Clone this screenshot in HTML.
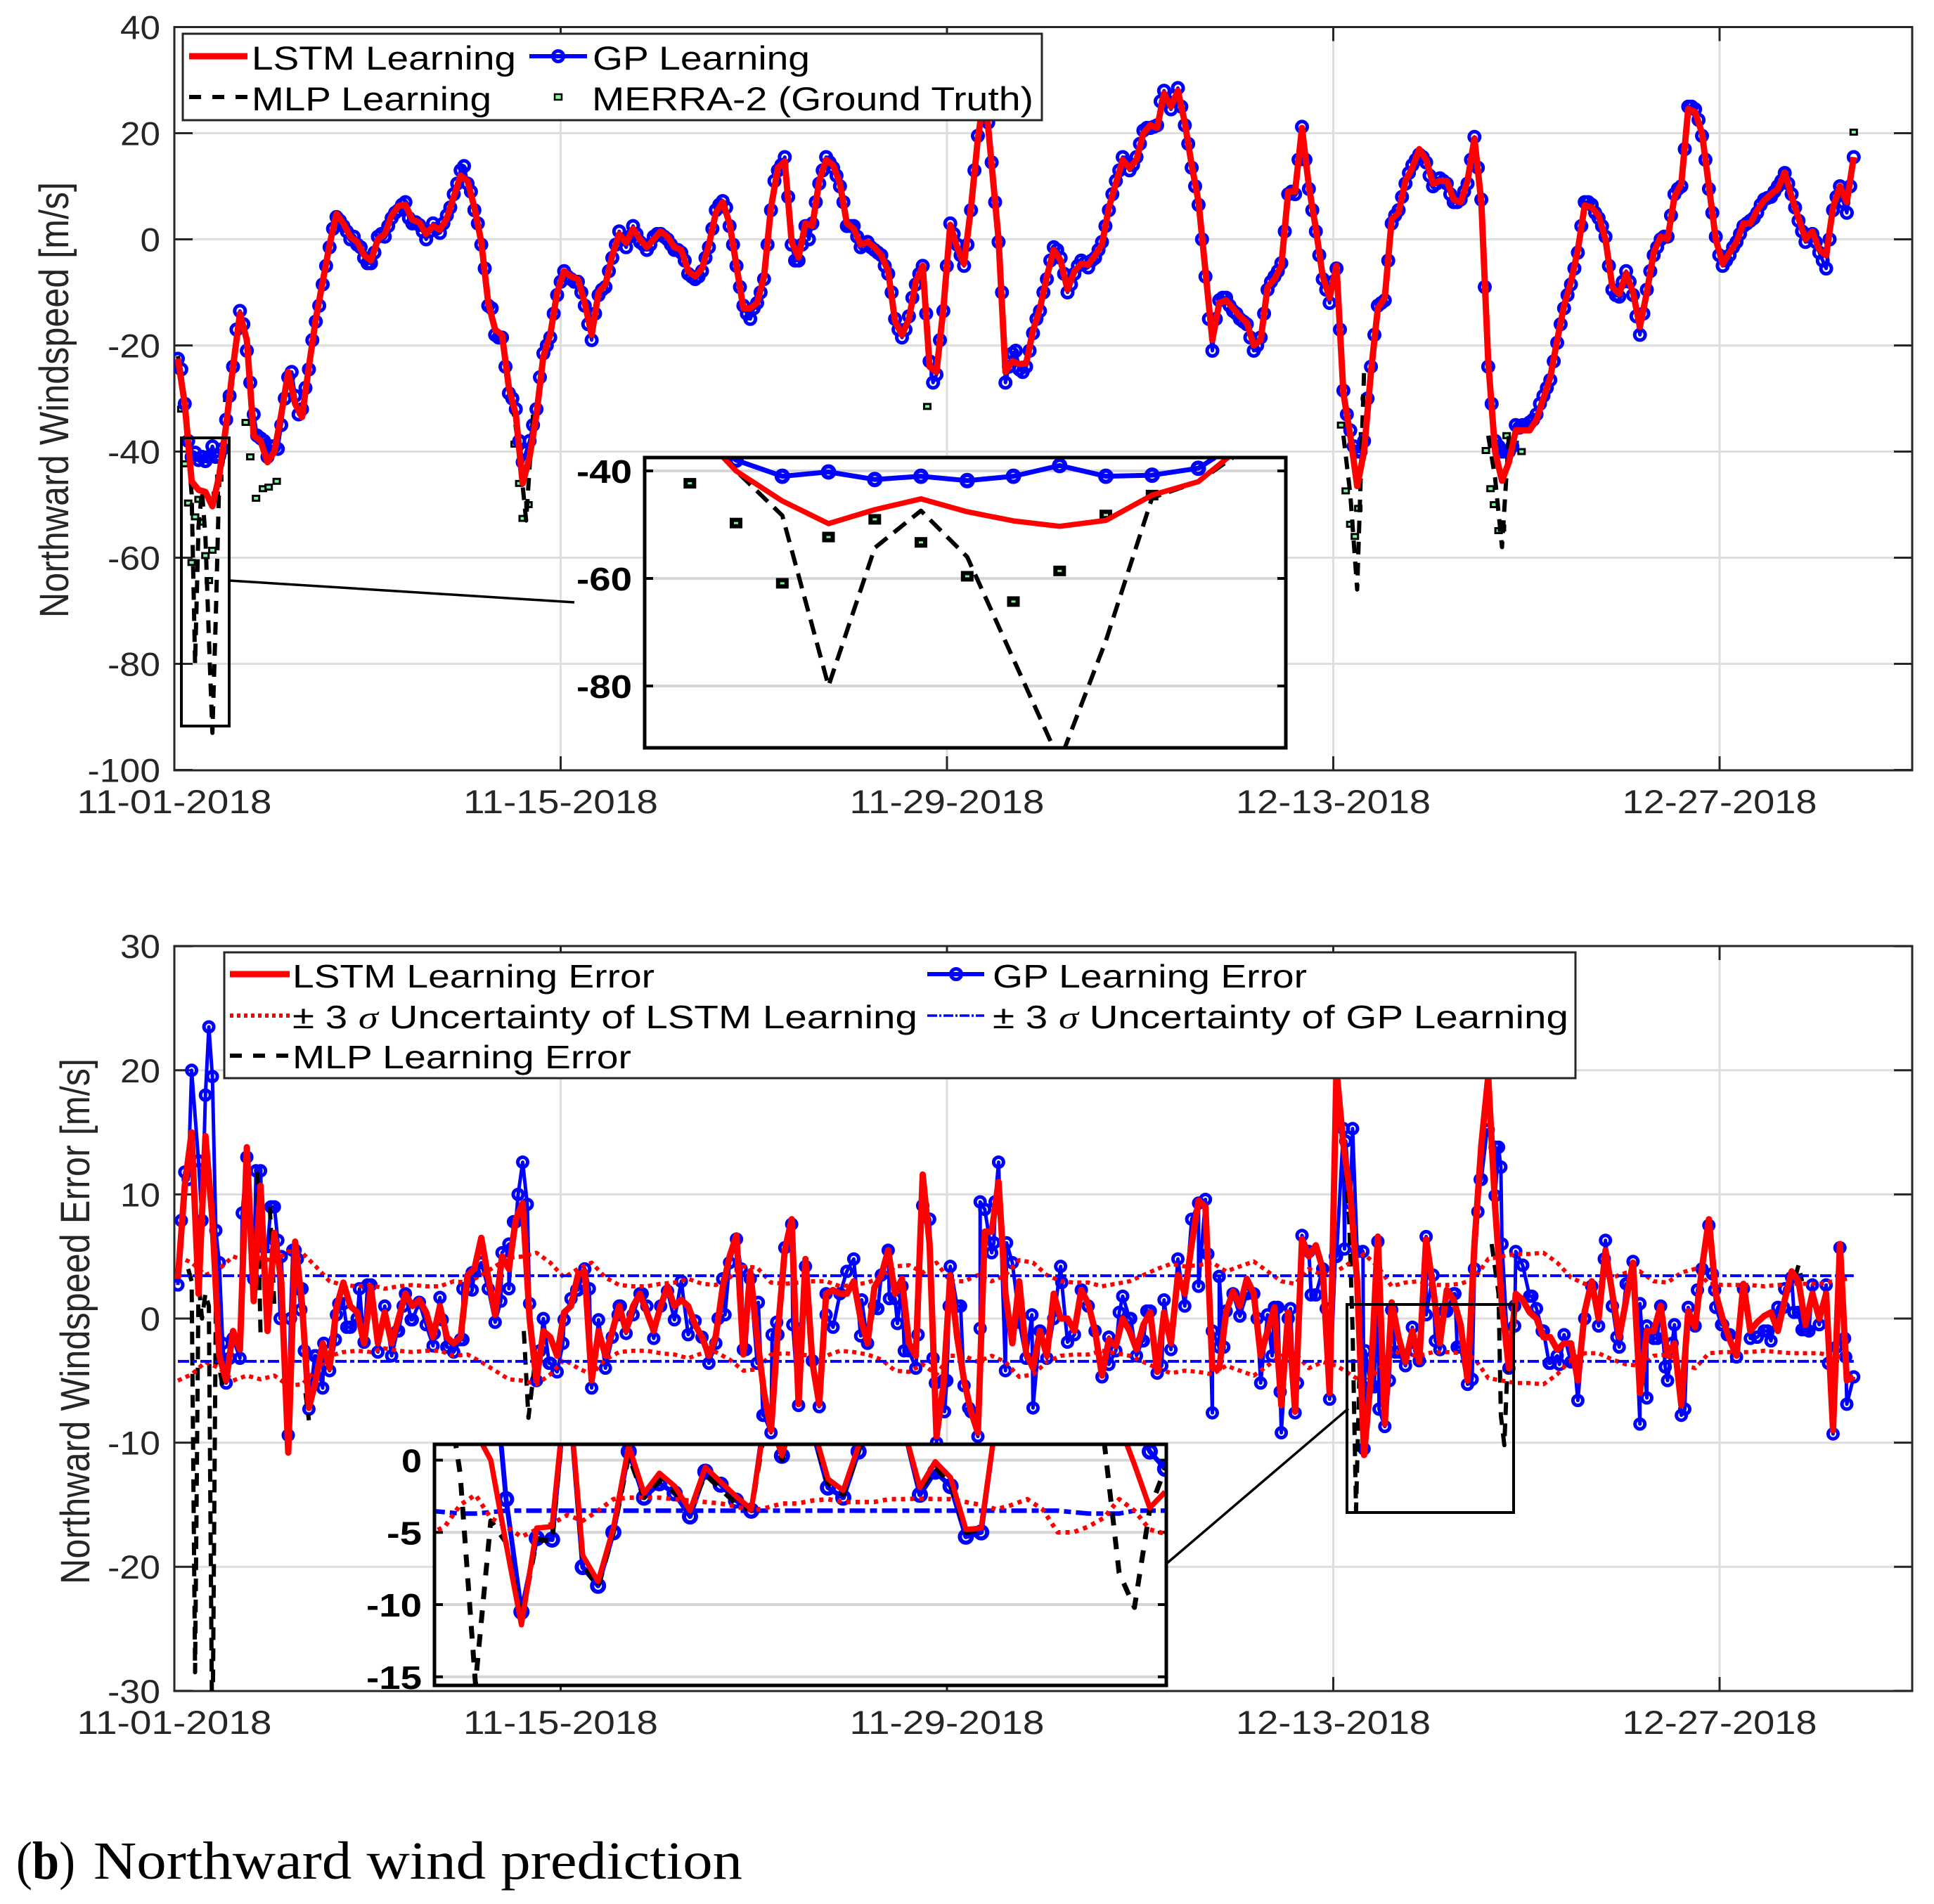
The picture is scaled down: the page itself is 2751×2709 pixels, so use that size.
<!DOCTYPE html>
<html lang="en">
<head>
<meta charset="utf-8">
<title>Northward wind prediction</title>
<style>
html,body{margin:0;padding:0;background:#fff;}
svg{display:block;}
text{font-family:"Liberation Sans",sans-serif;}
</style>
</head>
<body>
<svg id="figure" xmlns="http://www.w3.org/2000/svg" width="2751" height="2709" viewBox="0 0 2751 2709">
<defs>
<clipPath id="clip-top"><rect x="248" y="38" width="2472" height="1058"/></clipPath>
<clipPath id="clip-bottom"><rect x="248" y="1346" width="2472" height="1060"/></clipPath>
<clipPath id="clip-inset-top"><rect x="917" y="651" width="912" height="413"/></clipPath>
<clipPath id="clip-inset-bottom"><rect x="618" y="2055" width="1041" height="343"/></clipPath>
</defs>
<g id="top-plot"></g>
<g id="bottom-plot"></g>
<g id="top-legend">
<rect x="260" y="48" width="1222" height="123" fill="#fff" stroke="#262626" stroke-width="3"/>
<line x1="269" y1="80" x2="352" y2="80" stroke="#f00" stroke-width="9"/>
<text x="358" y="99" font-size="47" textLength="376" lengthAdjust="spacingAndGlyphs">LSTM Learning</text>
<line x1="753" y1="80" x2="835" y2="80" stroke="#00f" stroke-width="6"/>
<circle cx="794" cy="80" r="7.5" fill="none" stroke="#00f" stroke-width="5"/>
<text x="843" y="99" font-size="47" textLength="309" lengthAdjust="spacingAndGlyphs">GP Learning</text>
<line x1="269" y1="138" x2="352" y2="138" stroke="#000" stroke-width="6" stroke-dasharray="17 16"/>
<text x="358" y="157" font-size="47" textLength="341" lengthAdjust="spacingAndGlyphs">MLP Learning</text>
<rect x="789" y="134" width="10" height="8" fill="#7ef5a0" stroke="#000" stroke-width="2.5"/>
<text x="842" y="157" font-size="47" textLength="628" lengthAdjust="spacingAndGlyphs">MERRA-2 (Ground Truth)</text>
</g>
<g id="bottom-legend">
<rect x="319" y="1355" width="1922" height="179" fill="#fff" stroke="#262626" stroke-width="3"/>
<line x1="327" y1="1386" x2="412" y2="1386" stroke="#f00" stroke-width="9"/>
<text x="416" y="1405" font-size="46" textLength="515" lengthAdjust="spacingAndGlyphs">LSTM Learning Error</text>
<line x1="1319" y1="1386" x2="1400" y2="1386" stroke="#00f" stroke-width="6"/>
<circle cx="1360" cy="1386" r="7.5" fill="none" stroke="#00f" stroke-width="5"/>
<text x="1412" y="1405" font-size="46" textLength="447" lengthAdjust="spacingAndGlyphs">GP Learning Error</text>
<line x1="327" y1="1445" x2="412" y2="1445" stroke="#f00" stroke-width="6" stroke-dasharray="5 5"/>
<text x="416" y="1463" font-size="46" textLength="889" lengthAdjust="spacingAndGlyphs">± 3 <tspan font-family="Liberation Serif" font-style="italic">σ</tspan> Uncertainty of LSTM Learning</text>
<line x1="1319" y1="1445" x2="1400" y2="1445" stroke="#00f" stroke-width="3.5" stroke-dasharray="14 3 3 3"/>
<text x="1412" y="1463" font-size="46" textLength="819" lengthAdjust="spacingAndGlyphs">± 3 <tspan font-family="Liberation Serif" font-style="italic">σ</tspan> Uncertainty of GP Learning</text>
<line x1="327" y1="1502" x2="412" y2="1502" stroke="#000" stroke-width="6" stroke-dasharray="17 16"/>
<text x="416" y="1520" font-size="46" textLength="482" lengthAdjust="spacingAndGlyphs">MLP Learning Error</text>
</g>
<text transform="translate(97 569) rotate(-90)" text-anchor="middle" font-size="58" fill="#262626" textLength="620" lengthAdjust="spacingAndGlyphs">Northward Windspeed [m/s]</text>
<text transform="translate(127 1880) rotate(-90)" text-anchor="middle" font-size="58" fill="#262626" textLength="748" lengthAdjust="spacingAndGlyphs">Northward Windspeed Error [m/s]</text>
<text x="23" y="2673" font-size="76" textLength="84" lengthAdjust="spacingAndGlyphs" style="font-family:'Liberation Serif',serif">(<tspan font-weight="bold">b</tspan>)</text>
<text x="133" y="2673" font-size="76" textLength="923" lengthAdjust="spacingAndGlyphs" style="font-family:'Liberation Serif',serif">Northward wind prediction</text>
<script>
// ---------- shared axis data ----------
const dateLabels = ['11-01-2018','11-15-2018','11-29-2018','12-13-2018','12-27-2018'];
const dateDays = [0,14,28,42,56];
const topYTicks = [40,20,0,-20,-40,-60,-80,-100];
const bottomYTicks = [30,20,10,0,-10,-20,-30];
const topInsetTicks = [-40,-60,-80];
const bottomInsetTicks = [0,-5,-10,-15];

// ---------- top panel: six-hourly windspeed ----------
const lstmWind = [
-22.5,-31,-45.6,-47.2,-47.6,-50.3,-44.5,-35,-24,-14,
-19,-37,-38,-42,-40,-33,-25,-31,-33.5,-24,
-15,-8,-1,4.8,3,0.5,-0.5,-3,-4,0,
1,4.5,6.3,6.5,3.7,3.2,1,2.5,1.8,4,
8,12,11,6,-0.5,-12,-17,-18,-28,-33,
-46,-41,-33,-22,-18,-10,-6,-7,-7.5,-12,
-18,-10,-8.5,-3,1,-0.7,2,0,-1.5,0,
1.5,0.5,-1.5,-2,-6,-7,-5.5,-1,5,7,
3,-5,-13,-13,-12,-7,6,13.5,14.7,-0.5,
-3.4,3,2.5,11,15,14,10.5,3,2,-1,
-0.5,-1.5,-3,-6,-15.5,-18,-15,-8,-5,-24,
-25,-13,2.7,-1.5,-4.6,6,19,28,14,0,
-25,-23,-23.5,-23.4,-17.2,-13,-7,-2,-4,-9.5,
-6,-4.6,-4.8,-3,-1,6,10.5,15,13.4,15,
20,21.5,21,27.5,25,28,22,14,7,-6,
-19,-12,-11.5,-13,-14.5,-15.7,-20,-19,-9,-7.5,
-5,9,9,21,10,2,-7,-11,-5,-29,
-37,-46.5,-40,-25,-13,-11,3.8,5,11,13.5,
17,15,10.5,11,11,7.5,7,11,19,7,
-23,-40,-45.5,-42,-36,-36,-36,-34,-30,-26,
-19,-12.5,-8,-2,6.4,6,4.5,0,-9,-10.3,
-6.4,-10,-16.5,-10,-2.5,0.5,0,8,10.5,24.6,
24,20,10,0,-4.6,-2.5,-0.5,3,3,5.5,
7.3,8.5,9.5,12.6,8,4,0,1.5,-2,-3,
6,10,7,15.5];
const gpWind = [
-22.5,-31,-41,-41.6,-41.8,-39,-40.8,-34,-24,-13.5,
-21,-33,-37.5,-41,-39,-35,-26,-29.5,-32,-24.5,
-15.5,-8.5,-1.5,4.2,2.5,0,-1,-3.5,-4.5,0.5,
0.5,4,5.5,7,3,2.7,0,3,1.2,4.5,
8.5,13,10.5,5.5,-1,-12.5,-18,-18.5,-29,-32,
-42,-38,-32,-21.5,-18.5,-10.5,-6,-7.5,-8,-12.5,
-19,-10.5,-9,-3.5,1.5,-1.5,2.5,-0.5,-2,0.5,
1,0,-2,-2.5,-6.5,-7.5,-6,-1.5,5.5,7.2,
2.5,-5,-12.5,-15,-12,-7.5,5.5,13,15.5,-1,
-4,2.5,3,10.5,15.5,13.5,10,2.5,2.5,-1.5,
-0.5,-2,-3,-6.5,-15,-18.5,-14.5,-8.5,-5,-23,
-25.5,-13.5,3,-1,-5,5.5,19.5,28,14.5,-0.5,
-27,-21.5,-24.5,-24,-17.7,-13.5,-7.5,-1.5,-3.5,-10,
-6.5,-4,-5.3,-3.5,-0.5,5.5,11,15.5,13,15.5,
20.5,21,21.5,28,24.5,28.5,21.5,13.5,6.5,-7,
-21,-11.5,-11,-13.5,-15,-16,-21,-18.5,-9.5,-7,
-4.5,8.5,8.5,21.2,9.5,1.5,-7.5,-12,-5.5,-28.5,
-36,-40,-38,-24,-12.5,-11.5,3,5.5,10.5,14,
16,14.5,10,11.5,10.5,7,7.5,10.5,19.3,7.5,
-24,-38,-40,-40,-35,-35,-34.5,-33,-29.5,-26.5,
-19.5,-13,-8.5,-2.5,7,6.5,4,0.5,-9.5,-10.8,
-6,-10.5,-18,-9.5,-3,0,0.5,8.5,10,25,
24.5,19.5,9.5,0.5,-5,-3,-0.5,2.5,3.5,5,
7.5,8,10,12.5,8.5,3.5,-0.5,1,-2.5,-5.5,
5.5,10,5,15.5];
// GP rings at the in-between three-hourly samples (hour = 3 + 6*i)
const gpWindMid = [
-24.5,-38,-40.2,-41,-41,-41,-39.5,-29.5,-17,-16,
-27,-37,-38,-39,-39.5,-30,-25,-33,-28,-19,
-12.5,-5,2,3.5,1.5,0.5,-1.5,-4.5,-2.5,1,
2.5,5,6.5,4,3.2,1.5,1.5,2,3,6,
10.5,13.8,9,3,-5.5,-13,-18.5,-24,-30,-38,
-40,-35,-26,-20,-14,-8,-7,-8,-10,-16,
-14,-9.5,-6,-1,0,0.5,1,-1,-1,1,
0.5,-1,-2,-4,-7,-7,-3.5,2,6.5,6,
-1,-9,-14,-13,-10,-1,11,14,8,-4,
-1,0,7,13,14.5,12,7,2.5,0.5,-1,
-1.5,-2.5,-5,-10,-17,-17,-11,-6.5,-14,-27,
-19,-5,1,-3,-1,13,24,22,7,-10,
-24,-21,-25,-21,-15,-10,-4,-2,-6.5,-8.5,
-5,-4.5,-4,-2,2.5,8.5,13,14.5,14,18,
21,21.2,26,26,27,25,18,10,0,-15,
-15,-11,-12.5,-14,-15.5,-18.5,-20,-14,-8,-6,
1.5,9,15,15,5.5,-3,-9.5,-8,-17,-33,
-39,-40,-30,-18,-12,-4,4.5,8,12.5,15,
15.5,12,10.5,11,8.5,7,9,15,13.5,-9,
-31,-39,-40,-39,-35.5,-35,-34,-31,-28,-23,
-16,-10.5,-5.5,2.5,7,5,2.5,-5,-10.5,-8,
-8,-14.5,-14,-6,-1.5,0.5,4.5,9.5,17,25,
22.5,15,5,-3,-4,-1.5,1,3,4,6.5,
7.8,9,11,10.5,6,1.5,0.5,-0.5,-4,0,
8,7,10];
// sparse visible parts, hours since first sample; null separates runs
const mlpWindHours = [0,3,6,9,12,15,18,21,24,27,30,33,36,39,42,null,291,297,303,309,null,1014,1020,1026,1032,null,1140,1146,1152,1158];
const mlpWind = [-22,-25,-31,-40,-48,-80,-54,-47.4,-56,-75,-93,-71,-45,-42,-35,null,-31,-40,-53,-33,null,-37,-48,-66,-25,null,-37,-45,-58,-37];
const merraHours = [3,6,9,12,15,18,21,24,27,30,33,36,43,59,63,68,74,79,86,293,297,300,305,652,1012,1016,1020,1024,1027,1031,1138,1142,1145,1149,1152,1156,1163,1169,1458];
const merraWind = [-32,-42.3,-49.7,-60.9,-52.3,-49,-53.3,-59.6,-64.3,-58.6,-48.2,-45,-30,-34.5,-41,-48.8,-47,-46.7,-45.6,-38.6,-46,-52.6,-50,-31.5,-35,-47.4,-53.7,-56,-50.7,-37,-39.8,-47,-50,-54.9,-54.4,-37,-38.6,-40,20.2];
// top inset: three-hourly samples 2..15
const insetLstmWind = [-31,-40,-45.6,-49.8,-47.2,-45.2,-47.6,-49.3,-50.3,-49.2,-44.5,-42,-35,-25];
const insetGpWind = [-31,-38,-41,-40.2,-41.6,-41,-41.8,-41,-39,-41,-40.8,-39.5,-34,-26];
const insetMlpWind = [-31,-40,-48.3,-80,-54.3,-47.4,-56,-75,-94,-71.6,-45,-42,-36,-25];
const insetMerraWind = [-42.3,-49.7,-60.9,-52.3,-49,-53.3,-59.6,-64.3,-58.6,-48.2,-44.5];

// ---------- bottom panel: six-hourly errors ----------
const lstmError = [
3.2,10.7,15,2,14.7,8,-3,-5,-1,-2.5,
13.8,1.4,10.7,-1,6.9,3,-10.8,6.2,1.2,-7.2,
-5,-2,-4,0.9,2.9,1,0.5,-2,2.5,-2,
0.5,-2,0,2,1,1.5,0.5,-1.5,1,-1.5,
-2,-1.5,3.5,4,6.5,3.3,0.3,5,4,8,
9.3,0,-5,-1,-1.5,-3,0.5,1,3.5,3.8,
-5,-1,-3,-1,1,-1,1,2,0.5,-1,
1,2.6,1,1.5,1,-0.5,-1.5,-3,-1.4,2.5,
5,6.7,-2.9,3.8,-1.5,-6,-9,-1,5.5,8,
-6.9,4.8,-3.5,-6.9,2,2.3,2,2,3,0,
-2,2.5,3.5,5.5,2,3.2,-2,-3,11.6,6,
-9.5,-5.4,3.5,-1.5,-5,-7.5,-9.2,7,7,11,
2,-2,3,-2.8,-4,-1,-3,2,0,0,
-1,2.3,1.2,-1,-4.6,-1.7,-2.2,0,-1,-2.5,
-0.5,0.5,-4.3,0.5,-2,3.5,2,6,9.5,9,
-4,-4,0.5,2.2,1,3.2,2,-3,-1,0.9,
-7,0.5,-7.5,6.4,5,5.9,4,-6,20,14,
10,3,-11,-4.7,6.6,-8.5,1.3,-1.5,-3.5,-1,
-3.5,6.4,2.5,-2,2.3,1.5,-0.5,-5,6,14,
19.5,9,1,-4,2,1.5,0.5,0,-1.5,-1.5,
-2.5,-2,-2,-5,0.6,3,0,5.5,2,-1.5,
1.5,4.5,-6,-1,-1,1,-3,-2,-7,0.6,
-0.7,4.1,8,2,0,-1.7,-3,2.8,-1,-0.3,
0.2,0.5,-1,1.5,3.8,3,-0.5,2,0,2,
-9,6,-5,-4.7];
const gpError = [
2.7,11.8,20,12.7,18,19.5,4.5,-5.2,-1.6,-3.2,
13,3.2,11.9,5.8,9,5,-9.4,5.5,2.4,-7.3,
-3,-5.6,-4.2,0.3,1.2,-0.7,0,-1.9,2.7,-2.7,
1,-3,-1,2,-0.1,1.3,-0.5,-2.2,1.7,-2.3,
-2.7,-1.7,2.4,3.7,4.5,2.4,-0.3,5.3,6,7.8,
12.6,1.2,-5,0,-3.6,-4.3,-0.1,1.6,2.3,4,
-5.6,-0.1,-4,-1.5,1,-1.2,0.3,2,1,-1.6,
1,2.2,-0.1,3,-1.3,-0.2,-1.5,-3.6,-2,3.2,
4.5,6.4,-2.5,3.2,-3.6,-7.8,-9.2,-1.3,5.7,7.6,
-7,4.2,-3.4,-7.1,2,-0.7,2,3.8,4.8,-1.4,
-2,1,3.5,5.5,1.6,2.6,-2.6,-4,9.1,8,
-10,-5,4.2,1,-5.4,-7.5,-9.5,8.8,5.3,12.6,
-4.2,4.5,0,-3.2,-7.2,-1,-3.2,0,4.2,-1.9,
-1.3,2.3,1,-1,-4.7,-1.5,-2.6,1.8,0,-3,
-1.8,0.6,-4.4,1.5,-2.5,4.8,1,8,9.3,9.6,
-7.6,-2.3,0.6,2,0.2,2,2,-5.2,0.3,0.9,
-9.2,0,-7.6,6.7,5.4,1.9,4,-6.5,5,15.3,
9.3,5.4,-10.5,-5.5,6.2,-8.7,0.7,-2.7,-3.8,-0.7,
-3.4,6.6,3.5,-2.5,0.6,2,-2.3,-5.3,4,11.2,
15.2,13.8,6,-4,5.4,4.3,1.8,0.8,-1,-3.6,
-3,-1.3,-3.5,-6.6,0,2.6,-0.6,6.3,1,-2.3,
2.8,4.6,-8.5,-6.4,-1.6,1,-5,-0.5,-7.8,0.9,
-0.6,4,7.5,0.9,-0.5,-1.3,-3.1,2.4,-1.6,-1.5,
-1,-1.8,0.9,2.4,3.3,0.5,-0.9,2.7,-0.5,2.7,
-9.3,5.7,-6.9,-4.7];
// additional three-hourly GP samples
const gpExtraHours = [3,9,21,27,33,39,45,56,66,68,74,81,87,89,98,100,104,105,107,110,119,127,137,140,147,158,165,191,196,203,210,223,230,235,248,248,256,256,276,281,288,292,296,304,315,323,335,347,358,
383,385,404,470,476,490,494,505,509,517,521,535,564,595,609,619,626,632,644,648,654,657,659,667,669,671,681,688,698,698,710,711,721,732,743,769,810,819,829,839,843,856,888,896,900,906,910,939,957,
952,959,968,974,986,999,1007,1015,1016,1022,1031,1033,1041,1045,1054,1059,1076,1086,1094,1102,1111,1113,1126,1131,1133,1139,1146,1149,1151,1163,1163,1170,1178,1187,1193,1202,1215,1241,1248,1252,1261,1272,1278,1287,1294,1300,1311,1322,1335,1337,1343,1348,1374,1383,1397,1406,1413,1419,1434,1436,1443,1450,1451];
const gpExtra = [7.9,11.2,7.9,23.5,7.1,-2,-3.2,8.5,3.2,11.9,5.8,9,6.3,0,0,5.5,4.8,2.4,0.7,-2.6,-3,-2,-1.7,1.2,-0.7,2.4,2.7,-1,1,-0.1,1.3,-1.2,-0.1,-2.3,-1.7,2.4,3.7,2.3,-0.3,1.4,2.4,7.8,10,9.2,-2.6,-3.6,-2,2.3,2.4,
0.3,1,2,0,0.3,4,-2.5,1.3,-7.8,-1.3,-0.3,-0.5,0.3,1.5,0.8,1.6,-0.4,-2.6,-1.3,9.1,8,-3.2,-5.2,-7.5,-5,1,1,-7.2,-0.8,9.4,6.1,9.4,6.1,-0.3,0.3,2.9,-3.7,0.5,0,-1.8,0.6,-3.8,2.6,5.2,-1,3.4,-2.3,0,0.9,
-3,-5.9,0.8,-5.2,1.9,0.8,5,5.6,14.3,15.3,5.4,-2.6,-5.5,-7.3,-5,-2.7,-2.6,0.3,-1.8,0.6,2,-2.3,-4.9,8.6,11.2,15.2,9.9,13.8,12.2,1,-0.6,4.3,1.8,-1,-3.6,-3.7,-3.5,4.8,1,-1.5,2.8,1.2,-0.6,-1.6,-3.9,-2,-7.3,2.3,3.6,2.3,-0.5,-1.3,-1.5,-1,0.9,0.5,-0.9,-1,2.7,-3.6,-2.3,-1.6,-3.1];
const mlpErrorHours = [9,12,15,18,21,24,27,30,33,36,39,42,null,69,72,null,80,84,null,111,114,null,301,305,310,null,1016,1019,1022,1025,1028,1031,null,1143,1149,1151,1154,1157,1160,null,1407,1410,1413];
const mlpError = [4,3,-28.5,3,0,2,1,-36,1,-4,-5.5,-4,null,11.8,-1.5,null,9,1,null,-6,-8.2,null,-1,-8,-4,null,12,8,-1,-15.5,-4.2,-5.7,null,6,2,-7.8,-10.2,-3.4,-0.6,null,3.3,4.3,3];
// LSTM 3-sigma half width, twelve-hourly
const lstmSigma = [5,4.5,3.5,4,5,4.6,4.9,4.6,5.4,5.3,4.2,3,2.7,2.6,2.7,2.4,2.6,2.7,2.6,2.6,3,2.9,3.5,4.2,4.9,5,5.3,4.5,3.3,4,4.5,3.3,2.7,2.6,2.6,2.8,2.9,3.2,2.8,2.7,3.3,4.2,4.1,2.9,2.8,2.9,3,3,2.6,2.7,2.9,3.3,4.2,4.3,3.7,4.5,3,3,3.5,3,3.5,4.7,4.5,3.5,3,2.9,2.9,2.6,2.8,3,3.5,4,4.4,4.2,4.3,4.5,3.8,4.2,4.6,3.8,3,2.8,4,3.5,3.8,4.5,5.2,4.2,2.6,2.9,3,2.7,2.7,2.8,3.2,4.8,5,5.2,5.2,5.3,4.5,3.3,2.8,2.8,3.3,3.7,3.8,3,2.9,3.7,4,2.8,2.7,2.7,2.7,2.6,2.7,2.8,2.8,2.8,3,3.2];
const gpSigmaDays = [0,10,20,30,40,50,60.75];
const gpSigma = [3.45,3.45,3.45,3.45,3.45,3.45,3.45];
// bottom inset: three-hourly samples, step -5..43
const insetLstmError = [12,10,6,2,0,-5.8,-11.4,-4.7,-4.6,6,-6.6,-8.4,-4.7,1,-2.3,-0.9,-1.8,-3.5,-0.5,-1.5,-2.5,-3.4,3.5,0.3,4,2.4,-1.3,-2.1,1,4,4,2,-1.9,-0.1,-1.2,-4.8,-4.7,3,6,8,12,10,8,6,4,2.5,-0.3,-3.3,-2.2];
const insetGpError = [14,12,9,9,9,-2.7,-10.5,-5.4,-5.5,6,-7.4,-8.7,-5,0.6,-2.6,-1.6,-2.3,-3.9,-0.8,-1.7,-2.8,-3.5,4,0.3,4,2,-1.9,-2.6,0.6,5,5,2,-2.4,-0.8,-1.8,-5.3,-5,3,8,10,13,12,10,8,6,4,3,0.6,-0.6];
const insetMlpError = [8,6,-0.9,-15.5,-4.2,-5.7,-11,-5.5,-5.6,6,-7.2,-8.8,-5,0.3,-2.6,-1.4,-2.2,-3.5,-1,-2,-3,-3.5,3,0,4,2,-1.6,-2.4,0.6,4,4,2,-2.1,-0.5,-1.6,-5,-4.8,3,6,8,10,8,6,4,1.5,-7.8,-10.2,-3.4,-0.6];
const insetLstmBand = [-5.1,-4.6,-3.1,-2.4,-4,-4.6,-5.3,-4.8,-4.4,-3.8,-4.2,-3.5,-2.7,-2.6,-2.6,-2.6,-2.7,-2.8,-2.9,-3,-3.2,-3.5,-3.3,-3,-3,-2.8,-2.7,-2.9,-2.9,-2.9,-2.7,-2.7,-2.65,-2.7,-2.7,-2.9,-3.1,-3.4,-3.1,-2.7,-3.4,-5,-5,-4.6,-4,-2.7,-3.5,-4.8,-5.1];
const insetGpBand = [-3.5,-3.6,-3.7,-3.7,-3.6,-3.5,-3.5,-3.5,-3.5,-3.5,-3.5,-3.5,-3.5,-3.5,-3.5,-3.5,-3.5,-3.5,-3.5,-3.5,-3.5,-3.5,-3.5,-3.5,-3.5,-3.5,-3.5,-3.5,-3.5,-3.5,-3.5,-3.5,-3.5,-3.5,-3.5,-3.5,-3.5,-3.5,-3.5,-3.5,-3.5,-3.5,-3.6,-3.7,-3.7,-3.7,-3.5,-3.5,-3.5];

// ---------- axis functions ----------
const NS = 'http://www.w3.org/2000/svg';
const xDay = d => 248 + d * 39.25;
const xHour = h => 253 + h * 1.635;
const yTop = v => 340.5 - v * 7.55;
const yBottom = v => 1876 - v * 17.66;
const xTopInset = i => 1047 + (i - 3) * 65.75;
const yTopInset = v => 670 - (v + 40) * 7.65;
const xBottomInset = k => 719.9 + k * 21.8;
const yBottomInset = v => 2077.5 - v * 20.55;

function make(parent, tag, attrs, name) {
  const el = document.createElementNS(NS, tag);
  for (const k in attrs) el.setAttribute(k, attrs[k]);
  
  
  parent.appendChild(el);
  return el;
}
function pathOf(xs, ys, xf, yf) {
  let d = '', pen = false;
  for (let i = 0; i < ys.length; i++) {
    if (ys[i] === null || xs[i] === null || ys[i] === undefined) { pen = false; continue; }
    d += (pen ? 'L' : 'M') + xf(xs[i]).toFixed(1) + ' ' + yf(ys[i]).toFixed(1);
    pen = true;
  }
  return d;
}
function series(parent, xs, ys, xf, yf, stroke, width, dash, name) {
  const a = {d: pathOf(xs, ys, xf, yf), fill: 'none', stroke: stroke, 'stroke-width': width, 'stroke-linejoin': 'round'};
  if (dash) a['stroke-dasharray'] = dash;
  return make(parent, 'path', a, name);
}
function rings(parent, xs, ys, xf, yf, r, sw, name) {
  for (let i = 0; i < ys.length; i++) {
    make(parent, 'circle', {cx: xf(xs[i]).toFixed(1), cy: yf(ys[i]).toFixed(1), r: r, fill: 'none', stroke: '#00f', 'stroke-width': sw}, name);
  }
}
function squares(parent, xs, ys, xf, yf, w, h, sw, name) {
  for (let i = 0; i < ys.length; i++) {
    make(parent, 'rect', {x: (xf(xs[i]) - w / 2).toFixed(1), y: (yf(ys[i]) - h / 2).toFixed(1), width: w, height: h, fill: '#7ef5a0', stroke: '#000', 'stroke-width': sw}, name);
  }
}
function labelWidth(s, digit, minus) {
  let w = 0;
  for (const c of String(s)) w += c === '-' ? minus : digit;
  return w;
}
function label(parent, x, y, str, size, anchor, width, bold, fill, name) {
  const t = make(parent, 'text', {x: x, y: y, 'font-size': size, 'text-anchor': anchor, fill: fill, textLength: width, lengthAdjust: 'spacingAndGlyphs'}, name);
  if (bold) t.setAttribute('font-weight', 'bold');
  t.textContent = str;
  return t;
}
function axes(group, y0, y1, ticks, yf) {
  const L = 248, R = 2720, G = '#dedede', K = '#262626';
  dateDays.forEach(d => { if (d > 0) make(group, 'line', {x1: xDay(d), x2: xDay(d), y1: y0, y2: y1, stroke: G, 'stroke-width': 3}, 'x-gridline'); });
  ticks.forEach(v => { if (yf(v) > y0 + 1 && yf(v) < y1 - 1) make(group, 'line', {x1: L, x2: R, y1: yf(v), y2: yf(v), stroke: G, 'stroke-width': 3}, 'y-gridline'); });
  ticks.forEach(v => {
    make(group, 'line', {x1: L, x2: L + 26, y1: yf(v), y2: yf(v), stroke: K, 'stroke-width': 3}, 'y-tick-left');
    make(group, 'line', {x1: R - 26, x2: R, y1: yf(v), y2: yf(v), stroke: K, 'stroke-width': 3}, 'y-tick-right');
    label(group, 228, yf(v) + 17, String(v), 47, 'end', labelWidth(v, 28.5, 18), false, K, 'y-tick-label');
  });
  dateDays.forEach((d, i) => {
    make(group, 'line', {x1: xDay(d), x2: xDay(d), y1: y0, y2: y0 + 20, stroke: K, 'stroke-width': 3}, 'x-tick-top');
    make(group, 'line', {x1: xDay(d), x2: xDay(d), y1: y1 - 20, y2: y1, stroke: K, 'stroke-width': 3}, 'x-tick-bottom');
    label(group, xDay(d), y1 + 61, dateLabels[i], 47, 'middle', 277, false, K, 'x-tick-label');
  });
  make(group, 'rect', {x: L, y: y0, width: R - L, height: y1 - y0, fill: 'none', stroke: K, 'stroke-width': 3}, 'axes-box');
}
function insetFrame(group, x0, y0, x1, y1, ticks, yf, labelRight) {
  make(group, 'rect', {x: x0, y: y0, width: x1 - x0, height: y1 - y0, fill: '#fff'}, 'inset-background');
  ticks.forEach(v => {
    make(group, 'line', {x1: x0, x2: x1, y1: yf(v), y2: yf(v), stroke: '#d6d6d6', 'stroke-width': 4}, 'inset-gridline');
    make(group, 'line', {x1: x0, x2: x0 + 12, y1: yf(v), y2: yf(v), stroke: '#000', 'stroke-width': 4}, 'inset-tick-left');
    make(group, 'line', {x1: x1 - 12, x2: x1, y1: yf(v), y2: yf(v), stroke: '#000', 'stroke-width': 4}, 'inset-tick-right');
    label(group, labelRight, yf(v) + 17, String(v), 46, 'end', labelWidth(v, 29, 21), true, '#000', 'inset-tick-label');
  });
}
function range(a, n, step) { const r = []; for (let i = 0; i < n; i++) r.push(a + i * step); return r; }

// ---------- top panel ----------
const topG = document.getElementById('top-plot');
axes(topG, 38.5, 1096, topYTicks, yTop);
const topClip = make(topG, 'g', {'clip-path': 'url(#clip-top)'}, 'windspeed-series');
const tIdx = range(0, lstmWind.length, 1);
const tHour = i => xHour(i * 6);
const gpWindAll = [];
gpWind.forEach((v, i) => gpWindAll.push([i * 6, v]));
gpWindMid.forEach((v, i) => gpWindAll.push([3 + i * 6, v]));
gpWindAll.sort((a, b) => a[0] - b[0]);
const gpWindHours = gpWindAll.map(p => p[0]);
const gpWindVals = gpWindAll.map(p => p[1]);
squares(topClip, merraHours, merraWind, xHour, yTop, 9, 7, 3, 'merra-marker');
series(topClip, gpWindHours, gpWindVals, xHour, yTop, '#00f', 5, null, 'gp-line');
rings(topClip, gpWindHours, gpWindVals, xHour, yTop, 7.5, 5, 'gp-marker');
series(topClip, mlpWindHours, mlpWind, h => h === null ? 0 : xHour(h), yTop, '#000', 6, '18 12', 'mlp-line');
series(topClip, tIdx, lstmWind, tHour, yTop, '#f00', 9, null, 'lstm-line');
make(topG, 'rect', {x: 258, y: 623, width: 68, height: 410, fill: 'none', stroke: '#000', 'stroke-width': 4}, 'zoom-region-box');
make(topG, 'line', {x1: 326, y1: 826, x2: 817, y2: 857, stroke: '#000', 'stroke-width': 3.5}, 'zoom-connector');
const topInset = make(topG, 'g', {}, 'windspeed-inset');
insetFrame(topInset, 917, 651, 1829, 1064, topInsetTicks, yTopInset, 899);
const topInsetClip = make(topInset, 'g', {'clip-path': 'url(#clip-inset-top)'}, 'inset-series');
const iIdx = range(2, insetLstmWind.length, 1);
const mIdx = range(2, insetMerraWind.length, 1);
squares(topInsetClip, mIdx, insetMerraWind, xTopInset, yTopInset, 12, 9, 6, 'inset-merra-marker');
series(topInsetClip, iIdx, insetGpWind, xTopInset, yTopInset, '#00f', 7, null, 'inset-gp-line');
rings(topInsetClip, iIdx, insetGpWind, xTopInset, yTopInset, 8, 6, 'inset-gp-marker');
series(topInsetClip, iIdx, insetMlpWind, xTopInset, yTopInset, '#000', 6, '22 12', 'inset-mlp-line');
series(topInsetClip, iIdx, insetLstmWind, xTopInset, yTopInset, '#f00', 7.5, null, 'inset-lstm-line');
make(topInset, 'rect', {x: 917, y: 651, width: 912, height: 413, fill: 'none', stroke: '#000', 'stroke-width': 5}, 'inset-frame');

// ---------- bottom panel ----------
const botG = document.getElementById('bottom-plot');
axes(botG, 1346, 2406, bottomYTicks, yBottom);
const botClip = make(botG, 'g', {'clip-path': 'url(#clip-bottom)'}, 'error-series');
const eIdx = range(0, lstmError.length, 1);
const merged = [];
gpError.forEach((v, i) => merged.push([i * 6, v]));
gpExtra.forEach((v, i) => merged.push([gpExtraHours[i], v]));
merged.sort((a, b) => a[0] - b[0]);
const gpHours = merged.map(p => p[0]);
const gpVals = merged.map(p => p[1]);
series(botClip, gpHours, gpVals, xHour, yBottom, '#00f', 5, null, 'gp-error-line');
rings(botClip, gpHours, gpVals, xHour, yBottom, 7, 5, 'gp-error-marker');
series(botClip, mlpErrorHours, mlpError, h => h === null ? 0 : xHour(h), yBottom, '#000', 6, '18 12', 'mlp-error-line');
const sIdx = range(0, lstmSigma.length, 1);
const sHour = j => xHour(j * 12);
series(botClip, sIdx, lstmSigma, sHour, yBottom, '#f00', 6, '6 6', 'lstm-upper-band');
series(botClip, sIdx, lstmSigma.map(v => -v), sHour, yBottom, '#f00', 6, '6 6', 'lstm-lower-band');
series(botClip, gpSigmaDays, gpSigma, d => xHour(d * 24), yBottom, '#00f', 4, '16 5 6 5', 'gp-upper-band');
series(botClip, gpSigmaDays, gpSigma.map(v => -v), d => xHour(d * 24), yBottom, '#00f', 4, '16 5 6 5', 'gp-lower-band');
series(botClip, eIdx, lstmError, i => xHour(i * 6), yBottom, '#f00', 9, null, 'lstm-error-line');
make(botG, 'rect', {x: 1916, y: 1856, width: 237, height: 296, fill: 'none', stroke: '#000', 'stroke-width': 4}, 'zoom-region-box');
make(botG, 'line', {x1: 1918, y1: 2004, x2: 1659, y2: 2225, stroke: '#000', 'stroke-width': 3.5}, 'zoom-connector');
const botInset = make(botG, 'g', {}, 'error-inset');
insetFrame(botInset, 618, 2055, 1659, 2398, bottomInsetTicks, yBottomInset, 600);
const botInsetClip = make(botInset, 'g', {'clip-path': 'url(#clip-inset-bottom)'}, 'inset-series');
const kIdx = range(-5, insetLstmError.length, 1);
series(botInsetClip, kIdx, insetGpBand, xBottomInset, yBottomInset, '#00f', 6.5, '22 7 10 7', 'inset-gp-band');
series(botInsetClip, kIdx, insetGpError, xBottomInset, yBottomInset, '#00f', 7, null, 'inset-gp-error-line');
rings(botInsetClip, kIdx, insetGpError, xBottomInset, yBottomInset, 8.5, 6, 'inset-gp-error-marker');
series(botInsetClip, kIdx, insetMlpError, xBottomInset, yBottomInset, '#000', 7, '18 16', 'inset-mlp-error-line');
series(botInsetClip, kIdx, insetLstmBand, xBottomInset, yBottomInset, '#f00', 6.5, '6 7', 'inset-lstm-band');
series(botInsetClip, kIdx, insetLstmError, xBottomInset, yBottomInset, '#f00', 7.5, null, 'inset-lstm-error-line');
make(botInset, 'rect', {x: 618, y: 2055, width: 1041, height: 343, fill: 'none', stroke: '#000', 'stroke-width': 5}, 'inset-frame');
</script>
</svg>
</body>
</html>
